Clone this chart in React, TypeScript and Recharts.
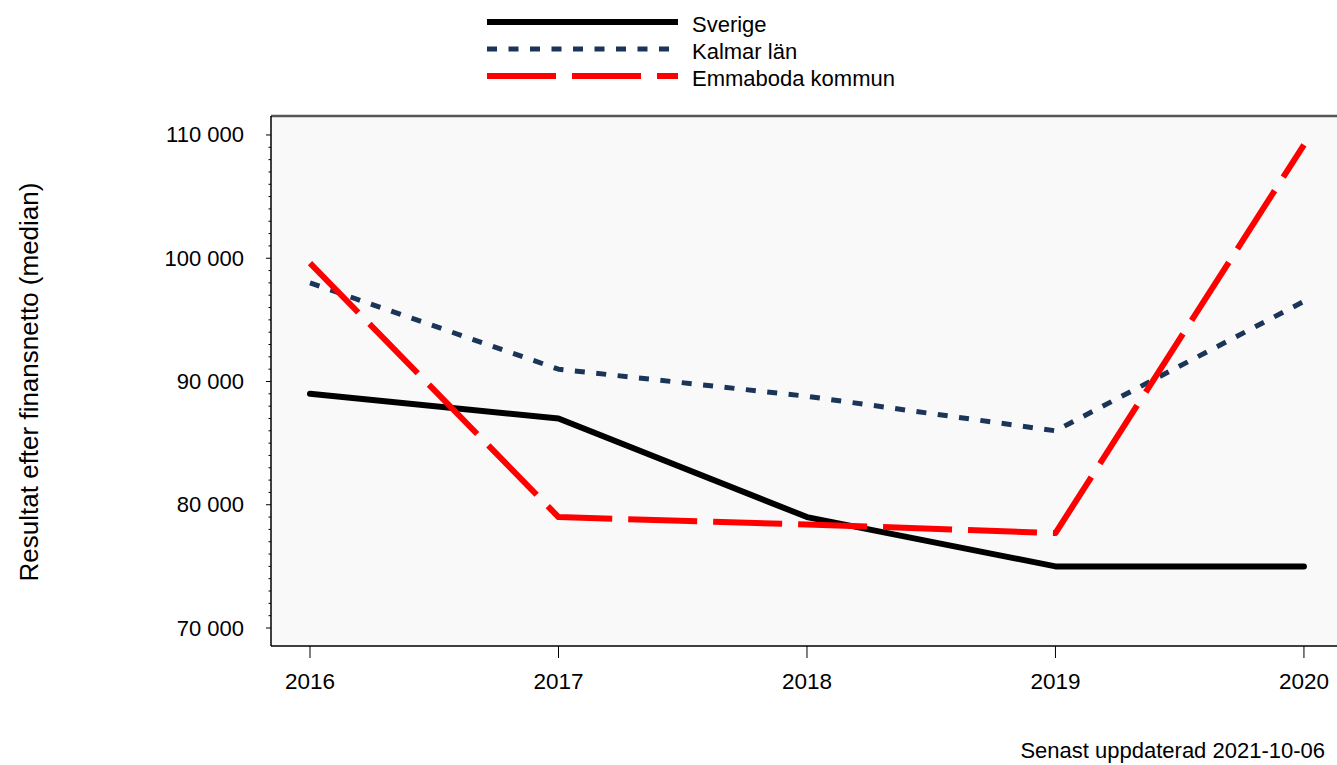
import React from "react";
import { CartesianGrid, Line, LineChart, ReferenceLine, XAxis, YAxis } from "recharts";

const years = [2016, 2017, 2018, 2019, 2020];
const sverige = [89000, 87000, 79000, 75000, 75000];
const kalmar = [98000, 91000, 88800, 86000, 96500];
const emmaboda = [99600, 79000, 78400, 77700, 109200];

const majorTicks = [70000, 80000, 90000, 100000, 110000];
const minorTicks = Array.from({ length: 41 }, (_, i) => 70000 + i * 1000);

const Y_MIN = 68540;
const Y_MAX = 111540;
const AXIS_X = 271;
const FONT = "'Liberation Sans', Arial, sans-serif";

const series = [
  { key: "sverige", name: "Sverige", color: "#000000", width: 6, dash: undefined, cap: "round" },
  { key: "kalmar", name: "Kalmar län", color: "#1b3558", width: 5, dash: "10 11.5", cap: "butt" },
  { key: "emmaboda", name: "Emmaboda kommun", color: "#ff0000", width: 6, dash: "69 16", cap: "butt" },
];

const data = years.map((year, i) => ({
  year,
  sverige: sverige[i],
  kalmar: kalmar[i],
  emmaboda: emmaboda[i],
}));

const fmt = (v: number) => String(v).replace(/\B(?=(\d{3})+(?!\d))/g, " ");

function YTick(props: any) {
  const { y, payload } = props;
  const v = payload.value as number;
  const major = majorTicks.includes(v);
  return (
    <g>
      <line x1={AXIS_X - (major ? 5 : 2.5)} x2={AXIS_X} y1={y} y2={y} stroke="#000" strokeWidth={1} />
      {major && (
        <text x={244} y={y} textAnchor="end" dominantBaseline="central" fontSize={22}
          fontFamily={FONT} fill="#000">
          {fmt(v)}
        </text>
      )}
    </g>
  );
}

export default function App() {
  return (
    <div style={{ position: "fixed", left: 0, top: 0, width: 1337, height: 765, background: "#fff", overflow: "hidden" }}>
      <LineChart width={1337} height={765} data={data} margin={{ top: 116, right: 0, left: 0, bottom: 0 }}>
        <CartesianGrid horizontal={false} vertical={false} fill="#f9f9f9" />
        <XAxis dataKey="year" type="number" domain={[2015.843, 2020.133]} ticks={years} allowDataOverflow
          height={119} tickSize={12} tickMargin={15} axisLine={{ stroke: "#000", strokeWidth: 1.5 }}
          tickLine={{ stroke: "#000", strokeWidth: 1 }}
          tick={{ fill: "#000", fontSize: 22.5, fontFamily: FONT }} />
        <YAxis type="number" domain={[Y_MIN, Y_MAX]} ticks={minorTicks} allowDataOverflow interval={0}
          width={AXIS_X} tickLine={false} axisLine={{ stroke: "#000", strokeWidth: 1.5 }} tick={<YTick />} />
        <ReferenceLine y={Y_MAX} stroke="#555555" strokeWidth={2.5} ifOverflow="visible" />
        {series.map((s) => (
          <Line key={s.key} type="linear" dataKey={s.key} name={s.name} stroke={s.color}
            strokeWidth={s.width} strokeDasharray={s.dash} strokeLinecap={s.cap as any}
            strokeLinejoin="round" dot={false} activeDot={false} isAnimationActive={false} />
        ))}
      </LineChart>
      <svg width={1337} height={765} style={{ position: "absolute", left: 0, top: 0, pointerEvents: "none" }}>
        {series.map((s, i) => (
          <g key={s.key}>
            <line x1={487} x2={678} y1={22 + i * 27} y2={22 + i * 27} stroke={s.color}
              strokeWidth={s.width} strokeDasharray={s.dash} />
            <text x={692} y={24.5 + i * 27} dominantBaseline="central" fontSize={22} fontFamily={FONT} fill="#000">
              {s.name}
            </text>
          </g>
        ))}
        <text x={29} y={382} transform="rotate(-90 29 382)" textAnchor="middle" dominantBaseline="central"
          fontSize={26} fontFamily={FONT} fill="#000">
          Resultat efter finansnetto (median)
        </text>
        <text x={1325} y={758} textAnchor="end" fontSize={22} fontFamily={FONT} fill="#000">
          Senast uppdaterad 2021-10-06
        </text>
      </svg>
    </div>
  );
}
